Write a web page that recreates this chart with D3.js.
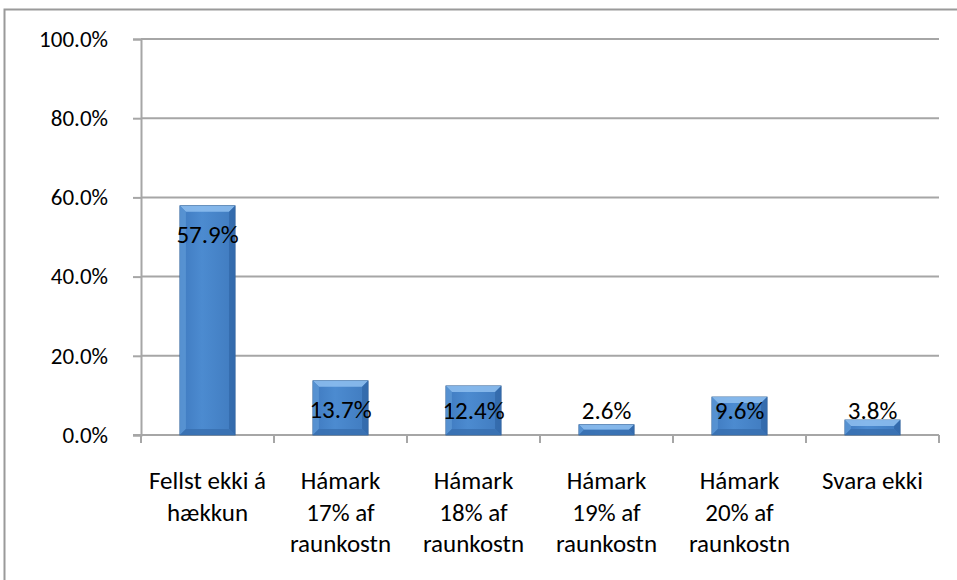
<!DOCTYPE html>
<html>
<head>
<meta charset="utf-8">
<script src="https://cdn.jsdelivr.net/npm/d3@7"></script>
<style>
  body { margin: 0; background: #fff; }
  svg text { font-family: Carlito, Calibri, Lato, "Open Sans", sans-serif; fill: #000; }
</style>
</head>
<body>
<svg id="chart" width="957" height="580"></svg>
<script>
const categories = [
  ["Fellst ekki á", "hækkun"],
  ["Hámark", "17% af", "raunkostn"],
  ["Hámark", "18% af", "raunkostn"],
  ["Hámark", "19% af", "raunkostn"],
  ["Hámark", "20% af", "raunkostn"],
  ["Svara ekki"]
];
const values = [57.9, 13.7, 12.4, 2.6, 9.6, 3.8];
const yTicks = [0, 20, 40, 60, 80, 100];

const svg = d3.select("#chart");
const plotLeft = 141, plotRight = 939, plotTop = 39, plotBottom = 435;

// outer frame (cut at right and bottom)
svg.append("path")
  .attr("d", "M4.5,580 L4.5,9.5 L957,9.5")
  .attr("fill", "none")
  .attr("stroke", "#9a9a9a")
  .attr("stroke-width", 2);

const x = d3.scaleBand()
  .domain(d3.range(values.length))
  .range([plotLeft, plotRight])
  .paddingInner(0.585)
  .paddingOuter(0.2925);

const y = d3.scaleLinear().domain([0, 100]).range([plotBottom, plotTop]);

// gridlines
svg.append("g").selectAll("line")
  .data(yTicks.filter(d => d > 0))
  .enter().append("line")
  .attr("x1", plotLeft).attr("x2", plotRight)
  .attr("y1", d => y(d)).attr("y2", d => y(d))
  .attr("stroke", "#a6a6a6").attr("stroke-width", 2);

// y axis
const yAxis = svg.append("g")
  .attr("transform", `translate(${plotLeft},0)`)
  .call(d3.axisLeft(y).tickValues(yTicks).tickSize(8).tickPadding(25)
    .tickFormat(d => d.toFixed(1) + "%"));
yAxis.select(".domain").attr("stroke", "#a6a6a6").attr("stroke-width", 2);
yAxis.selectAll(".tick line").attr("stroke", "#a6a6a6").attr("stroke-width", 2);
yAxis.selectAll(".tick text")
  .attr("font-size", "23px")
  .style("font-family", "Carlito, Calibri, Lato, sans-serif");

// x axis line and ticks between categories
const step = x.step();
svg.append("line")
  .attr("x1", plotLeft - 8).attr("x2", plotRight)
  .attr("y1", plotBottom).attr("y2", plotBottom)
  .attr("stroke", "#a6a6a6").attr("stroke-width", 2);
svg.append("g").selectAll("line")
  .data(d3.range(values.length + 1))
  .enter().append("line")
  .attr("x1", i => plotLeft + i * step).attr("x2", i => plotLeft + i * step)
  .attr("y1", plotBottom).attr("y2", plotBottom + 8)
  .attr("stroke", "#a6a6a6").attr("stroke-width", 2);

// bar gradient
const defs = svg.append("defs");
const grad = defs.append("linearGradient").attr("id", "barGrad")
  .attr("x1", "0").attr("x2", "1").attr("y1", "0").attr("y2", "0");
grad.append("stop").attr("offset", "0%").attr("stop-color", "#3f7ac0");
grad.append("stop").attr("offset", "40%").attr("stop-color", "#4c8bd0");
grad.append("stop").attr("offset", "100%").attr("stop-color", "#407bbf");

const bars = svg.append("g").selectAll("g")
  .data(values)
  .enter().append("g");

const bev = 6;
bars.append("rect")
  .attr("x", (d, i) => x(i))
  .attr("y", d => y(d))
  .attr("width", x.bandwidth())
  .attr("height", d => plotBottom - y(d))
  .attr("fill", "url(#barGrad)")
  .attr("stroke", "#2f5f96")
  .attr("stroke-width", 0.8);

// bevel edges
function bevelPoly(d, i, side) {
  const x0 = x(i), x1 = x(i) + x.bandwidth();
  const y0 = y(d), y1 = plotBottom;
  const b = Math.min(bev, (y1 - y0) / 2);
  if (side === "top") return [[x0, y0], [x1, y0], [x1 - b, y0 + b], [x0 + b, y0 + b]];
  if (side === "bottom") return [[x0, y1], [x1, y1], [x1 - b, y1 - b], [x0 + b, y1 - b]];
  if (side === "left") return [[x0, y0], [x0 + b, y0 + b], [x0 + b, y1 - b], [x0, y1]];
  return [[x1, y0], [x1 - b, y0 + b], [x1 - b, y1 - b], [x1, y1]];
}
const bevelFill = { top: "#8fbff0", left: "#5a95d4", right: "#3269a9", bottom: "#3870b0" };
["top", "left", "right", "bottom"].forEach(side => {
  bars.append("polygon")
    .attr("points", (d, i) => bevelPoly(d, i, side).map(p => p.join(",")).join(" "))
    .attr("fill", bevelFill[side])
    .attr("opacity", 0.85);
});

// value labels
bars.append("text")
  .attr("x", (d, i) => x(i) + x.bandwidth() / 2)
  .attr("y", d => Math.min(y(d) + 37, plotBottom - 16))
  .attr("text-anchor", "middle")
  .attr("font-size", "25px")
  .text(d => d.toFixed(1) + "%");

// category labels
const cat = svg.append("g").selectAll("text")
  .data(categories)
  .enter().append("text")
  .attr("x", (d, i) => x(i) + x.bandwidth() / 2)
  .attr("y", 489)
  .attr("text-anchor", "middle")
  .attr("font-size", "25px");
cat.selectAll("tspan")
  .data(d => d)
  .enter().append("tspan")
  .attr("x", function () { return d3.select(this.parentNode).attr("x"); })
  .attr("dy", (d, j) => j === 0 ? 0 : 31.5)
  .text(d => d);
</script>
</body>
</html>
